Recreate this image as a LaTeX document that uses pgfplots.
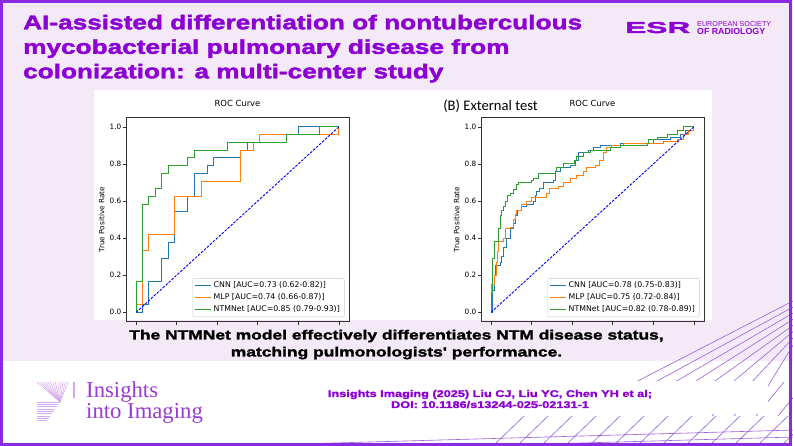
\documentclass[border=0pt]{standalone}
\usepackage{pgfplots}
\pgfplotsset{compat=1.18}
\usepackage{fontspec}
\newfontfamily\plotfont{DejaVu Sans}
\newfontfamily\heavyfont{Liberation Sans}[UprightFont={* Bold}, FakeStretch=1.31, FakeBold=2]
\newfontfamily\carlito{Carlito}
\newfontfamily\serifont{Liberation Serif}
\newfontfamily\sansfont{Liberation Sans}
\definecolor{lav}{HTML}{F4EAF7}
\definecolor{ttl}{HTML}{8C00D4}
\definecolor{brd}{HTML}{8A2BE2}
\definecolor{logo}{HTML}{9A3BD6}
\definecolor{deco}{HTML}{9C5FD8}
\definecolor{mplblue}{HTML}{1F77B4}
\definecolor{mplorange}{HTML}{FF7F0E}
\definecolor{mplgreen}{HTML}{2CA02C}
\pgfplotsset{rocstyle/.style={
  scale only axis, width=223pt, height=204pt,
  xmin=-0.05, xmax=1.05, ymin=-0.05, ymax=1.05,
  axis line style={black!80, line width=0.6pt},
  xtick={0,0.2,0.4,0.6,0.8,1}, xticklabels={},
  ytick={0,0.2,0.4,0.6,0.8,1}, yticklabels={0.0,0.2,0.4,0.6,0.8,1.0},
  tick align=outside, major tick length=3.5pt, xtick pos=bottom, ytick pos=left,
  tick style={black!80, line width=0.6pt},
  yticklabel style={font=\plotfont\fontsize{7.3}{8}\selectfont, inner xsep=1pt},
  ylabel={True Positive Rate},
  ylabel style={font=\plotfont\fontsize{7.3}{8}\selectfont, at={(axis description cs:-0.109,0.5)}, anchor=center},
  title={ROC Curve},
  title style={font=\plotfont\fontsize{8.4}{10}\selectfont, at={(0.5,1)}, anchor=base, yshift=4.6pt},
  legend cell align=left,
  legend image code/.code={\draw[##1, line width=1pt] (0pt,0pt) -- (15.5pt,0pt);},
  legend style={at={(axis description cs:0.98,0.0225)}, anchor=south east,
    font=\plotfont\fontsize{7.8}{9}\selectfont, draw=black!20, rounded corners=2pt,
    inner xsep=2pt, inner ysep=1.5pt, row sep=0pt, nodes={inner ysep=2.2pt, inner xsep=2.5pt}},
  every axis plot/.append style={line width=1pt},
  diag/.style={color={rgb,255:red,0;green,0;blue,255}, dash pattern=on 2.6pt off 1.4pt, line width=0.9pt, forget plot},
}}
\begin{document}
\begin{tikzpicture}[x=1pt,y=1pt]
\useasboundingbox (0,0) rectangle (793,446);
\clip (0,0) rectangle (793,446);
\fill[lav] (0,0) rectangle (793,446);
\fill[white] (0,0) rectangle (793,84.5);
% decorative lines
\foreach \i in {0,...,7} {
  \draw[deco, line width=0.6pt] (795,{446-(300+6*\i)}) -- ({628+20*\i},60);
}
\foreach \i in {0,...,12} {
  \draw[deco, line width=0.6pt] ({492+24*\i},-1) -- ({524+24*\i},30);
}
\foreach \i in {0,...,3} {
  \draw[deco, line width=0.6pt] ({712+22*\i},30) -- ({740+22*\i},64);
}
\draw[deco, line width=0.6pt] (228,0) -- (795,16);
\draw[deco, line width=0.6pt] (440,-1) -- (795,9);
\fill[white] (300,32) rectangle (768,65);
% insights logo icon
\foreach \i in {0,...,12} {
  \draw[logo!45, line width=0.5pt] ({37+2.6*\i},64) -- (60,44);
}
\foreach \i in {0,...,8} {
  \draw[logo!45, line width=0.5pt] (37,{44-2.3*\i}) -- ({60-1.6*\i},{44-2.3*\i});
}
\draw[logo!45, line width=1.5pt] (74,64) -- (74,48);
% plot panel
\fill[white] (94,126) rectangle (712,356);

\begin{axis}[rocstyle, at={(126pt,124.4pt)}]
\addplot[mplblue, const plot mark left] coordinates {(0,0) (0.033,0.042) (0.062,0.167) (0.127,0.292) (0.158,0.375) (0.191,0.542) (0.255,0.625) (0.288,0.75) (0.354,0.792) (0.384,0.833) (0.514,0.875) (0.548,0.917) (0.609,0.958) (0.803,1.0) (1,1)};
\addlegendentry{CNN [AUC=0.73 (0.62-0.82)]}
\addplot[mplorange, const plot mark left] coordinates {(0,0) (0,0.042) (0.03,0.333) (0.062,0.417) (0.191,0.625) (0.321,0.708) (0.514,0.875) (0.581,0.917) (0.609,0.958) (1,1.0)};
\addlegendentry{MLP [AUC=0.74 (0.66-0.87)]}
\addplot[mplgreen, const plot mark left] coordinates {(0,0) (0,0.167) (0.033,0.583) (0.062,0.625) (0.095,0.667) (0.127,0.75) (0.16,0.792) (0.255,0.833) (0.288,0.875) (0.449,0.917) (0.741,0.958) (0.906,1.0) (1,1)};
\addlegendentry{NTMNet [AUC=0.85 (0.79-0.93)]}
\addplot[diag] coordinates {(0,0) (1,1)};
\end{axis}

\begin{axis}[rocstyle, at={(481pt,124.4pt)}]
\addplot[mplblue, const plot mark left] coordinates {(0,0) (0.005,0.07) (0.008,0.12) (0.015,0.2) (0.02,0.25) (0.045,0.27) (0.053,0.3) (0.06,0.35) (0.077,0.4) (0.097,0.45) (0.11,0.48) (0.118,0.52) (0.13,0.55) (0.148,0.57) (0.176,0.58) (0.21,0.6) (0.218,0.63) (0.225,0.65) (0.24,0.67) (0.258,0.7) (0.31,0.71) (0.316,0.76) (0.34,0.78) (0.39,0.79) (0.415,0.82) (0.43,0.86) (0.48,0.87) (0.505,0.89) (0.54,0.9) (0.637,0.91) (0.8,0.93) (0.884,0.94) (0.933,0.96) (0.96,0.98) (1,1)};
\addlegendentry{CNN [AUC=0.78 (0.75-0.83)]}
\addplot[mplorange, const plot mark left] coordinates {(0,0) (0,0.15) (0.016,0.2) (0.025,0.27) (0.03,0.33) (0.036,0.38) (0.06,0.4) (0.07,0.45) (0.094,0.46) (0.11,0.5) (0.118,0.53) (0.127,0.55) (0.15,0.58) (0.176,0.6) (0.2,0.62) (0.275,0.64) (0.29,0.67) (0.333,0.68) (0.357,0.7) (0.39,0.72) (0.423,0.74) (0.456,0.76) (0.472,0.78) (0.513,0.79) (0.535,0.82) (0.555,0.86) (0.571,0.89) (0.596,0.9) (0.653,0.91) (0.85,0.92) (0.917,0.93) (0.95,0.96) (0.975,0.98) (1,1)};
\addlegendentry{MLP [AUC=0.75 (0.72-0.84)]}
\addplot[mplgreen, const plot mark left] coordinates {(0,0) (0,0.1) (0.005,0.2) (0.008,0.29) (0.015,0.38) (0.036,0.45) (0.045,0.52) (0.05,0.55) (0.062,0.57) (0.07,0.6) (0.08,0.63) (0.097,0.64) (0.11,0.66) (0.125,0.69) (0.135,0.7) (0.2,0.71) (0.21,0.72) (0.234,0.75) (0.316,0.76) (0.32,0.78) (0.357,0.8) (0.41,0.82) (0.42,0.84) (0.456,0.86) (0.49,0.87) (0.588,0.89) (0.637,0.9) (0.77,0.91) (0.777,0.93) (0.82,0.94) (0.87,0.96) (0.917,0.98) (0.95,1.0) (1,1)};
\addlegendentry{NTMNet [AUC=0.82 (0.78-0.89)]}
\addplot[diag] coordinates {(0,0) (1,1)};
\end{axis}

\node[anchor=base, font=\carlito\fontsize{14.6}{16}\selectfont, inner sep=0pt] at (490.5,335.5) {(B) External test};

% title
\node[anchor=base west, inner sep=0pt, text=ttl, font=\heavyfont\fontsize{20}{24}\selectfont] at (23,416.7) {AI-assisted differentiation of nontuberculous};
\node[anchor=base west, inner sep=0pt, text=ttl, font=\heavyfont\fontsize{20}{24}\selectfont] at (23,392.2) {mycobacterial pulmonary disease from};
\node[anchor=base west, inner sep=0pt, text=ttl, font=\heavyfont\fontsize{20}{24}\selectfont] at (23,367.7) {colonization: a multi-center study};
% ESR logo
\node[anchor=base west, inner sep=0pt, text=ttl] at (625,413) {\resizebox{65pt}{11pt}{\heavyfont ESR}};
\node[anchor=base west, inner sep=0pt, text=ttl] at (697,419.3) {\resizebox{74pt}{!}{\sansfont EUROPEAN SOCIETY}};
\node[anchor=base west, inner sep=0pt, text=ttl] at (697,411) {\resizebox{68pt}{!}{\sansfont\bfseries OF RADIOLOGY}};
% bottom message
\node[anchor=base, inner sep=0pt, font=\heavyfont\fontsize{13.3}{15}\selectfont] at (396.5,106.5) {The NTMNet model effectively differentiates NTM disease status,};
\node[anchor=base, inner sep=0pt, font=\heavyfont\fontsize{13.3}{15}\selectfont] at (396.5,89.5) {matching pulmonologists' performance.};
% citation
\node[anchor=base, inner sep=0pt, text=ttl, font=\heavyfont\fontsize{9.7}{11}\selectfont] at (490,49) {Insights Imaging (2025) Liu CJ, Liu YC, Chen YH et al;};
\node[anchor=base, inner sep=0pt, text=ttl, font=\heavyfont\fontsize{9.7}{11}\selectfont] at (490,38) {DOI: 10.1186/s13244-025-02131-1};
% insights logo text
\node[anchor=base west, inner sep=0pt, text=logo, font=\serifont\fontsize{22.7}{24}\selectfont] at (86,48) {Insights};
\node[anchor=base west, inner sep=0pt, text=logo, font=\serifont\fontsize{22.7}{24}\selectfont] at (86,27) {into Imaging};
% border
\draw[brd, line width=3pt] (1.5,1.5) rectangle (790.5,444.5);
\end{tikzpicture}
\end{document}
